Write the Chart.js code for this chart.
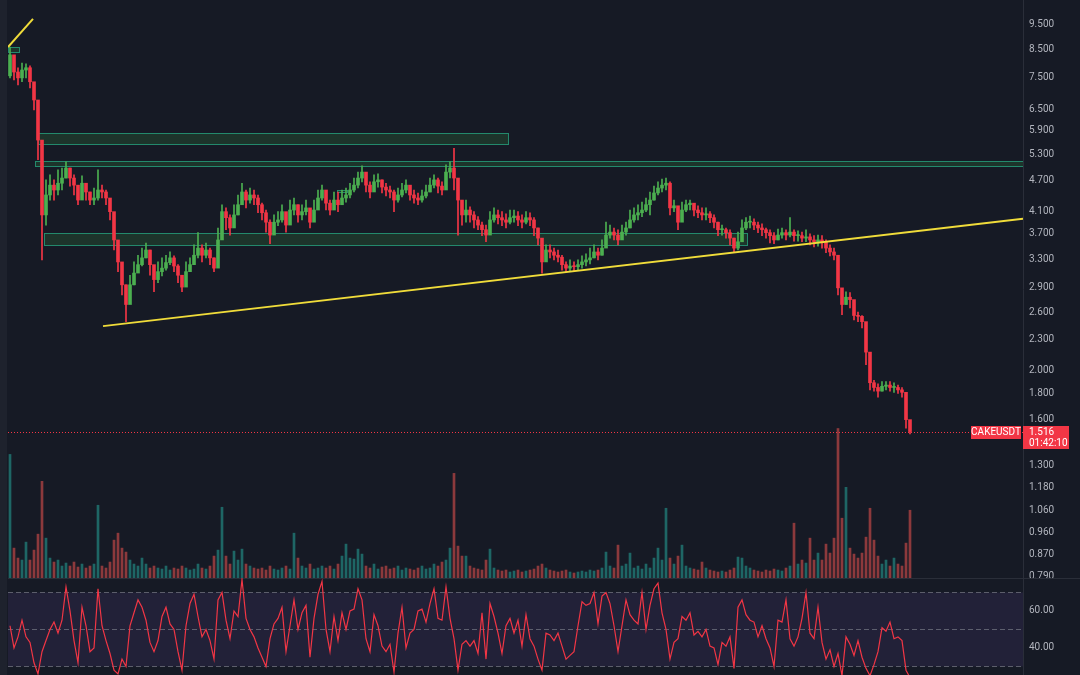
<!DOCTYPE html>
<html>
<head>
<meta charset="utf-8">
<script src="https://cdn.jsdelivr.net/npm/chart.js@4.4.1/dist/chart.umd.min.js"></script>
<style>
  html, body { margin: 0; padding: 0; background: #161a25; }
  #wrap { position: relative; width: 1080px; height: 675px; overflow: hidden; background: #161a25; }
  #strip { position: absolute; left: 0; top: 0; width: 7px; height: 675px; background: #1e222d; }
  #price { position: absolute; left: 8px; top: 0; }
  #rsi { position: absolute; left: 8px; top: 578px; }
</style>
</head>
<body>
<div id="wrap">
  <div id="strip"></div>
  <canvas id="price" width="1072" height="578"></canvas>
  <canvas id="rsi" width="1072" height="97"></canvas>
</div>
<script>
// CAKEUSDT (one candle ~ 4px of the original)
const firstOpen = 7.55;
const closes = [
  8.30,7.68,7.48,7.75,7.83,7.35,6.77,5.65,4.03,4.41,
  4.61,4.51,4.65,4.76,4.98,4.76,4.61,4.31,4.65,4.47,
  4.31,4.35,4.51,4.47,4.35,4.09,3.60,3.26,2.94,2.69,
  2.94,3.10,3.22,3.32,3.44,3.22,3.01,3.12,3.17,3.25,
  3.32,3.20,3.07,2.91,3.12,3.22,3.36,3.47,3.36,3.44,
  3.32,3.17,3.60,4.09,3.98,3.80,4.03,4.22,4.47,4.31,
  4.41,4.35,4.22,4.07,3.90,3.68,3.90,3.94,4.09,3.85,
  4.12,4.22,4.03,4.09,4.16,3.90,4.12,4.35,4.51,4.25,
  4.12,4.31,4.22,4.35,4.41,4.51,4.61,4.76,4.89,4.61,
  4.47,4.68,4.72,4.57,4.51,4.47,4.31,4.41,4.51,4.61,
  4.41,4.35,4.31,4.39,4.47,4.61,4.72,4.59,4.51,4.89,
  4.98,4.76,4.31,4.03,4.12,4.03,3.94,3.85,3.77,3.68,
  3.94,4.03,3.98,3.94,3.90,3.98,4.01,3.94,3.90,3.98,
  3.94,3.80,3.63,3.26,3.44,3.41,3.36,3.33,3.22,3.17,
  3.20,3.19,3.22,3.26,3.29,3.32,3.41,3.36,3.47,3.68,
  3.73,3.68,3.60,3.73,3.80,3.94,4.03,4.07,4.12,4.22,
  4.31,4.45,4.55,4.61,4.65,4.16,4.20,3.90,4.12,4.22,
  4.25,4.12,4.07,4.03,4.05,3.98,3.90,3.77,3.77,3.72,
  3.63,3.47,3.57,3.80,3.90,3.90,3.85,3.80,3.77,3.72,
  3.67,3.60,3.68,3.72,3.68,3.73,3.67,3.67,3.63,3.65,
  3.60,3.57,3.60,3.57,3.47,3.41,3.36,2.90,2.69,2.78,
  2.75,2.56,2.55,2.49,2.17,1.89,1.85,1.82,1.86,1.87,
  1.85,1.85,1.83,1.81,1.60,1.516
];
const highs = [
  8.60,8.19,7.83,8.00,7.97,7.90,7.08,6.41,4.83,4.72,
  4.83,4.72,4.94,4.98,5.12,4.98,4.83,4.51,4.81,4.65,
  4.47,4.55,4.94,4.61,4.51,4.31,3.94,3.52,3.22,2.94,
  3.07,3.26,3.36,3.47,3.55,3.44,3.17,3.26,3.32,3.36,
  3.41,3.35,3.22,3.07,3.26,3.32,3.52,3.72,3.52,3.55,
  3.47,3.32,3.80,4.22,4.16,4.03,4.22,4.41,4.65,4.51,
  4.55,4.51,4.41,4.25,4.12,3.94,4.03,4.09,4.22,4.03,
  4.31,4.35,4.22,4.22,4.31,4.09,4.31,4.51,4.61,4.47,
  4.31,4.47,4.47,4.51,4.55,4.65,4.76,4.89,5.03,4.83,
  4.68,4.83,4.85,4.72,4.65,4.59,4.51,4.55,4.65,4.72,
  4.57,4.51,4.45,4.51,4.61,4.76,4.83,4.76,4.68,5.05,
  5.12,5.44,4.61,4.22,4.31,4.18,4.09,4.00,3.90,3.85,
  4.09,4.16,4.12,4.09,4.05,4.12,4.12,4.09,4.03,4.09,
  4.07,3.98,3.80,3.60,3.52,3.52,3.47,3.44,3.36,3.26,
  3.29,3.26,3.29,3.35,3.38,3.47,3.52,3.47,3.60,3.90,
  3.85,3.80,3.77,3.85,3.90,4.12,4.16,4.22,4.27,4.35,
  4.47,4.59,4.68,4.74,4.76,4.68,4.31,4.12,4.27,4.31,
  4.31,4.23,4.20,4.16,4.16,4.09,4.03,3.90,3.85,3.80,
  3.77,3.63,3.73,3.94,3.98,4.01,3.96,3.90,3.87,3.80,
  3.77,3.72,3.78,3.80,3.77,3.98,3.77,3.75,3.73,3.77,
  3.70,3.67,3.68,3.67,3.60,3.52,3.47,3.32,2.85,2.85,
  2.84,2.65,2.60,2.56,2.45,2.10,1.91,1.88,1.90,1.90,
  1.90,1.89,1.87,1.85,1.79,1.56
];
const lows = [
  7.48,7.41,7.25,7.35,7.48,7.15,6.47,5.17,3.29,3.85,
  4.31,4.31,4.41,4.51,4.76,4.59,4.41,4.22,4.47,4.31,
  4.22,4.22,4.31,4.35,4.22,3.94,3.44,3.12,2.81,2.49,
  2.77,2.94,3.12,3.20,3.32,3.07,2.85,2.97,3.06,3.14,
  3.22,3.12,2.97,2.85,2.97,3.12,3.22,3.32,3.26,3.32,
  3.22,3.12,3.36,3.85,3.77,3.68,3.85,4.03,4.31,4.16,
  4.25,4.22,4.07,3.94,3.73,3.54,3.73,3.84,3.90,3.73,
  3.90,4.03,3.90,3.94,4.03,3.80,3.94,4.18,4.31,4.12,
  4.03,4.16,4.09,4.22,4.27,4.35,4.47,4.55,4.68,4.47,
  4.35,4.51,4.57,4.45,4.39,4.35,4.09,4.27,4.37,4.45,
  4.31,4.25,4.22,4.27,4.35,4.47,4.55,4.45,4.41,4.61,
  4.76,4.51,3.68,3.85,3.90,3.90,3.80,3.77,3.67,3.57,
  3.77,3.90,3.87,3.84,3.80,3.87,3.90,3.84,3.80,3.87,
  3.84,3.67,3.52,3.10,3.29,3.32,3.29,3.26,3.14,3.12,
  3.13,3.12,3.14,3.17,3.20,3.23,3.32,3.29,3.36,3.52,
  3.63,3.60,3.52,3.63,3.68,3.80,3.90,3.94,4.00,4.09,
  4.03,4.31,4.41,4.47,4.51,4.03,4.09,3.77,3.98,4.09,
  4.12,4.01,3.98,3.94,3.94,3.89,3.80,3.67,3.68,3.63,
  3.52,3.40,3.44,3.63,3.77,3.80,3.77,3.72,3.67,3.63,
  3.55,3.54,3.60,3.63,3.60,3.65,3.58,3.58,3.57,3.57,
  3.52,3.49,3.50,3.47,3.40,3.35,3.29,2.81,2.57,2.69,
  2.65,2.51,2.49,2.42,2.05,1.83,1.82,1.77,1.82,1.83,
  1.82,1.81,1.80,1.77,1.54,1.50
];
// volume, thousands of CAKE
const volumes = [
  124,30,20,18,36,18,28,44,97,40,
  20,16,18,12,15,12,16,11,14,10,
  12,14,73,12,10,16,38,45,30,26,
  18,14,12,20,14,10,12,10,9,12,
  8,10,9,12,10,8,9,14,10,9,
  12,22,28,71,22,14,27,18,29,14,
  12,10,9,10,8,12,9,8,10,12,
  9,45,20,12,10,14,9,10,12,10,
  12,9,14,22,34,20,19,29,24,12,
  10,14,9,11,12,9,10,12,8,10,
  9,8,10,12,9,10,14,12,16,18,
  30,105,32,22,22,12,10,9,8,18,
  29,10,8,7,8,6,7,8,6,7,
  8,9,12,14,10,8,7,6,7,8,
  6,5,6,7,6,8,7,8,10,26,
  12,10,33,12,14,25,10,12,9,14,
  10,20,30,18,70,20,14,22,33,12,
  10,9,8,16,10,8,7,6,7,6,
  8,10,21,20,12,10,8,7,6,8,
  7,9,8,7,10,12,55,14,18,15,
  40,18,25,18,34,25,40,150,60,91,
  30,24,20,25,41,70,38,22,14,18,
  12,20,14,12,35,68
];
const rsiValues = [
  52,40,46,55,46,43,32,26,38,44,
  50,54,48,55,73,60,44,32,62,52,
  38,40,72,52,44,37,28,26,34,30,
  52,59,66,62,55,43,38,44,57,62,
  53,50,38,28,52,64,69,57,46,50,
  44,34,66,70,55,45,60,57,77,56,
  50,46,40,35,30,45,53,56,62,38,
  52,66,50,59,63,35,56,69,76,50,
  38,57,44,59,50,60,61,72,66,45,
  38,58,52,41,38,42,27,48,62,40,
  48,50,60,61,54,64,72,56,55,73,
  56,45,28,42,44,41,44,37,59,34,
  64,57,48,37,52,56,48,55,41,58,
  45,41,34,28,48,47,44,48,41,34,
  36,38,52,65,63,64,70,53,68,70,
  64,52,38,52,66,58,55,53,70,50,
  63,72,75,59,50,34,43,45,57,55,
  59,47,49,46,50,41,40,31,43,41,
  46,29,62,66,58,55,54,46,52,45,
  40,30,55,54,66,45,41,46,56,70,
  48,45,62,43,34,39,30,37,25,46,
  42,36,44,35,29,25,31,38,51,49,
  54,45,46,44,28,24
];
const priceTicks = [9.5, 8.5, 7.5, 6.5, 5.9, 5.3, 4.7, 4.1, 3.7, 3.3, 2.9, 2.6, 2.3, 2.0, 1.8, 1.6, 1.3, 1.18, 1.06, 0.96, 0.87, 0.79];
const rsiTicks = [40, 60];
const rsiLevels = [70, 50, 30];

// drawn zones: from/to candle index, low/high price
const zoneFrom = [7, 6.25, 8.5, -0.5, 81.75];
const zoneTo = [124.5, 253.25, 184.25, 2.25, 84.25];
const zoneLow = [5.55, 5.03, 3.52, 8.41, 4.47];
const zoneHigh = [5.83, 5.14, 3.72, 8.60, 4.50];
// trend lines: [index, price] end points
const trendTop = [[-0.5, 8.60], [5.75, 9.76]];
const trendSupport = [[23.25, 2.44], [253.25, 3.96]];

const symbol = 'CAKEUSDT';
const countdown = '01:42:10';

const UP = '#4caf50', DOWN = '#f23645';
const X_MIN = -0.5, X_MAX = 253.25;
const AXIS_W = 57;
const FONT = {family: 'Roboto', size: 10};
const TXT = '#b2b5be';

const idx = closes.map((_, i) => i);
const opens = closes.map((c, i) => i === 0 ? firstOpen : closes[i - 1]);
const rising = closes.map((c, i) => c >= opens[i]);

// axis labels must not shrink the plot area
function fitRightAxis(s) {
  s.width = AXIS_W;
  s.paddingTop = 0;
  s.paddingBottom = 0;
  s.paddingLeft = 0;
  s.paddingRight = 0;
}

const zonesPlugin = {
  id: 'zones',
  beforeDatasetsDraw(chart) {
    const {ctx, chartArea: ca, scales: {x, y}} = chart;
    ctx.save();
    ctx.beginPath();
    ctx.rect(ca.left, ca.top, ca.width, ca.height);
    ctx.clip();
    zoneFrom.forEach((f, k) => {
      const x0 = Math.round(x.getPixelForValue(f)) + 0.5;
      const x1 = Math.round(x.getPixelForValue(zoneTo[k])) + 0.5;
      const y0 = Math.round(y.getPixelForValue(zoneHigh[k])) + 0.5;
      const y1 = Math.round(y.getPixelForValue(zoneLow[k])) + 0.5;
      ctx.fillStyle = 'rgba(60,160,70,0.2)';
      ctx.fillRect(x0, y0, x1 - x0, y1 - y0);
      ctx.strokeStyle = '#23896c';
      ctx.lineWidth = 1;
      ctx.strokeRect(x0, y0, x1 - x0, y1 - y0);
    });
    ctx.restore();
  }
};

const lastPricePlugin = {
  id: 'lastPrice',
  afterDatasetsDraw(chart) {
    const {ctx, chartArea: ca, scales: {y}} = chart;
    const last = closes[closes.length - 1];
    const yp = Math.round(y.getPixelForValue(last)) + 0.5;
    ctx.save();
    ctx.strokeStyle = DOWN;
    ctx.lineWidth = 1;
    ctx.setLineDash([1, 2]);
    ctx.beginPath();
    ctx.moveTo(ca.left, yp);
    ctx.lineTo(ca.right, yp);
    ctx.stroke();
    ctx.setLineDash([]);
    ctx.fillStyle = DOWN;
    ctx.fillRect(ca.right - 52, yp - 6.5, 50, 13);
    ctx.fillRect(ca.right, yp - 6.5, 46, 23);
    ctx.fillStyle = '#ffffff';
    ctx.font = '10px Roboto';
    ctx.textBaseline = 'middle';
    ctx.textAlign = 'center';
    ctx.fillText(symbol, ca.right - 27, yp);
    ctx.textAlign = 'left';
    ctx.fillText(last.toFixed(3), ca.right + 6, yp);
    ctx.fillText(countdown, ca.right + 6, yp + 11);
    ctx.restore();
  }
};

new Chart(document.getElementById('price'), {
  type: 'bar',
  data: {
    datasets: [
      {type: 'line', data: trendTop.map(p => ({x: p[0], y: p[1]})), borderColor: '#f0dc3a', borderWidth: 2, pointRadius: 0, order: 0},
      {type: 'line', data: trendSupport.map(p => ({x: p[0], y: p[1]})), borderColor: '#f0dc3a', borderWidth: 2, pointRadius: 0, order: 0},
      {data: idx.map(i => ({x: i, y: [opens[i], closes[i]]})), backgroundColor: rising.map(u => u ? UP : DOWN),
       barThickness: 3, minBarLength: 1, grouped: false, order: 1},
      {data: idx.map(i => ({x: i, y: [lows[i], highs[i]]})), backgroundColor: rising.map(u => u ? UP : DOWN),
       barThickness: 1, grouped: false, order: 2},
      {data: idx.map(i => ({x: i, y: volumes[i]})), yAxisID: 'v',
       backgroundColor: rising.map(u => u ? 'rgba(38,166,154,0.55)' : 'rgba(239,83,80,0.55)'),
       barThickness: 2, grouped: false, order: 3}
    ]
  },
  options: {
    responsive: false,
    animation: false,
    events: [],
    layout: {autoPadding: false, padding: 0},
    plugins: {legend: {display: false}, tooltip: {enabled: false}},
    scales: {
      x: {type: 'linear', min: X_MIN, max: X_MAX, display: false, offset: false},
      y: {
        type: 'logarithmic', position: 'right', min: 0.783, max: 10.63, bounds: 'data',
        grid: {display: false, drawTicks: false},
        border: {display: true, color: '#2a2e39'},
        ticks: {color: TXT, font: FONT, padding: 6, autoSkip: false, callback: v => Number(v).toFixed(3)},
        afterBuildTicks: s => { s.ticks = priceTicks.map(v => ({value: v})); },
        afterFit: fitRightAxis
      },
      v: {type: 'linear', display: false, min: 0, max: 580}
    }
  },
  plugins: [zonesPlugin, lastPricePlugin]
});

const rsiBandPlugin = {
  id: 'rsiBand',
  beforeDatasetsDraw(chart) {
    const {ctx, chartArea: ca, scales: {y}} = chart;
    const top = y.getPixelForValue(rsiLevels[0]);
    const bot = y.getPixelForValue(rsiLevels[2]);
    ctx.save();
    ctx.fillStyle = 'rgba(126,87,194,0.12)';
    ctx.fillRect(ca.left, top, ca.width, bot - top);
    ctx.strokeStyle = 'rgba(120,123,134,0.7)';
    ctx.lineWidth = 1;
    ctx.setLineDash([5, 3]);
    rsiLevels.forEach(l => {
      const yy = Math.round(y.getPixelForValue(l)) + 0.5;
      ctx.beginPath();
      ctx.moveTo(ca.left, yy);
      ctx.lineTo(ca.right, yy);
      ctx.stroke();
    });
    ctx.setLineDash([]);
    ctx.strokeStyle = '#2a2e39';
    ctx.beginPath();
    ctx.moveTo(0, 0.5);
    ctx.lineTo(chart.width, 0.5);
    ctx.stroke();
    ctx.restore();
  }
};

new Chart(document.getElementById('rsi'), {
  type: 'line',
  data: {
    datasets: [{
      data: idx.map(i => ({x: i, y: rsiValues[i]})),
      borderColor: '#f23645', borderWidth: 1.2, pointRadius: 0, tension: 0
    }]
  },
  options: {
    responsive: false,
    animation: false,
    events: [],
    layout: {autoPadding: false, padding: 0},
    plugins: {legend: {display: false}, tooltip: {enabled: false}},
    scales: {
      x: {type: 'linear', min: X_MIN, max: X_MAX, display: false},
      y: {
        position: 'right', min: 25.4, max: 77.8, bounds: 'data',
        grid: {display: false, drawTicks: false},
        border: {display: true, color: '#2a2e39'},
        ticks: {color: TXT, font: FONT, padding: 6, callback: v => Number(v).toFixed(2)},
        afterBuildTicks: s => { s.ticks = rsiTicks.map(v => ({value: v})); },
        afterFit: fitRightAxis
      }
    }
  },
  plugins: [rsiBandPlugin]
});
</script>
</body>
</html>
